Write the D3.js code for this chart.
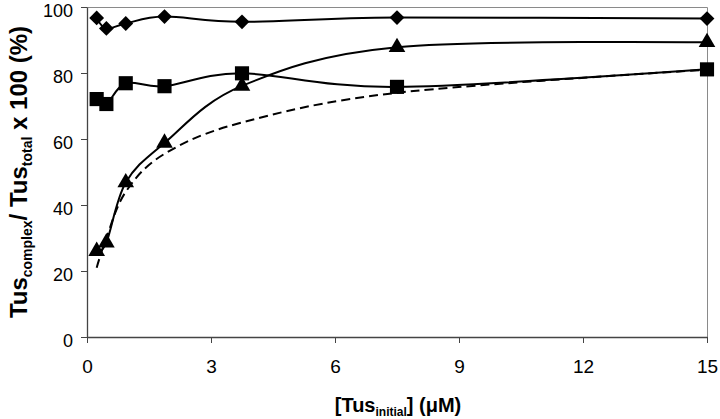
<!DOCTYPE html>
<html>
<head>
<meta charset="utf-8">
<script src="https://cdn.jsdelivr.net/npm/d3@7"></script>
<style>
  body { margin: 0; background: #fff; }
  svg text { font-family: "Liberation Sans", Arial, sans-serif; fill: #000; }
</style>
</head>
<body>
<div id="chart"></div>
<script>
// data (Tus initial concentration, uM)
var tusInitial = [0.234, 0.469, 0.9375, 1.875, 3.75, 7.5, 15];
var diamondVals = [96.7, 93.5, 95.0, 97.1, 95.5, 96.8, 96.5];
var squareVals = [72.1, 70.6, 76.9, 76.0, 79.9, 75.8, 81.1];
var triangleVals = [26.0, 28.6, 46.8, 58.8, 76.1, 87.8, 89.3];
var dashedVals = [21.0, 30.0, 44.0, 55.5, 65.0, 74.0, 81.0];
var xTicks = [0, 3, 6, 9, 12, 15];
var yTicks = [0, 20, 40, 60, 80, 100];

var W = 720, H = 419;
var margin = {top: 7, right: 13, bottom: 82, left: 87};
var w = W - margin.left - margin.right,
    h = H - margin.top - margin.bottom;

var svgBG = d3.select("#chart").append("svg").attr("width", W).attr("height", H);
var svg = svgBG.append("g").attr("transform", "translate(" + margin.left + "," + margin.top + ")");

var x = d3.scaleLinear().domain([0, 15]).range([0, w]);
var y = d3.scaleLinear().domain([0, 100]).range([h, 0]);

// frame (top + right)
svg.append("path")
    .attr("d", "M0,0.5H" + (w + 0.5) + "V" + h)
    .attr("fill", "none").attr("stroke", "#8a8a8a").attr("stroke-width", 1);

var xAxis = d3.axisBottom(x).tickValues(xTicks).tickSize(6).tickPadding(17).tickSizeOuter(0);
var yAxis = d3.axisLeft(y).tickValues(yTicks).tickSize(6).tickPadding(8).tickSizeOuter(0);

var gx = svg.append("g").attr("transform", "translate(0," + h + ")").call(xAxis);
var gy = svg.append("g").call(yAxis);
[gx, gy].forEach(function (g) {
    g.select(".domain").attr("stroke", "#444").attr("stroke-width", 1.3);
    g.selectAll(".tick line").attr("stroke", "#444");
    g.selectAll("text").attr("font-size", 19).attr("fill", "#000");
});
gy.selectAll("text").attr("font-size", 18).attr("dy", "0.55em");

var line = d3.line()
    .x(function (d) { return x(d[0]); })
    .y(function (d) { return y(d[1]); })
    .curve(d3.curveCardinal.tension(0));

function pairs(vals) {
    return tusInitial.map(function (t, i) { return [t, vals[i]]; });
}

svg.append("path").datum(pairs(dashedVals))
    .attr("d", line).attr("fill", "none").attr("stroke", "#000")
    .attr("stroke-width", 2).attr("stroke-dasharray", "9,5");

[diamondVals, squareVals, triangleVals].forEach(function (vals) {
    svg.append("path").datum(pairs(vals))
        .attr("d", line).attr("fill", "none").attr("stroke", "#000").attr("stroke-width", 2);
});

function markers(vals, type, size, rot) {
    svg.append("g").selectAll("path")
        .data(pairs(vals))
        .enter().append("path")
        .attr("d", d3.symbol().type(type).size(size))
        .attr("transform", function (d) {
            return "translate(" + x(d[0]) + "," + y(d[1]) + ") rotate(" + rot + ")";
        })
        .attr("fill", "#000");
}
markers(diamondVals, d3.symbolSquare, 110, 45);
markers(squareVals, d3.symbolSquare, 200, 0);
markers(triangleVals, d3.symbolTriangle, 120, 0);

// axis titles
var xt = svgBG.append("text")
    .attr("x", 398).attr("y", 412)
    .attr("text-anchor", "middle")
    .attr("font-size", 20).attr("font-weight", "bold");
xt.append("tspan").text("[Tus");
xt.append("tspan").attr("font-size", 12).attr("dy", 4).text("initial");
xt.append("tspan").attr("dy", -4).text("] (\u03BCM)");

var yt = svgBG.append("text")
    .attr("transform", "translate(27,172) rotate(-90)")
    .attr("text-anchor", "middle")
    .attr("font-size", 24).attr("font-weight", "bold");
yt.append("tspan").text("Tus");
yt.append("tspan").attr("font-size", 14).attr("dy", 5).text("complex");
yt.append("tspan").attr("dy", -5).text("/ Tus");
yt.append("tspan").attr("font-size", 14).attr("dy", 5).text("total");
yt.append("tspan").attr("dy", -5).text(" x 100 (%)");
</script>
</body>
</html>
